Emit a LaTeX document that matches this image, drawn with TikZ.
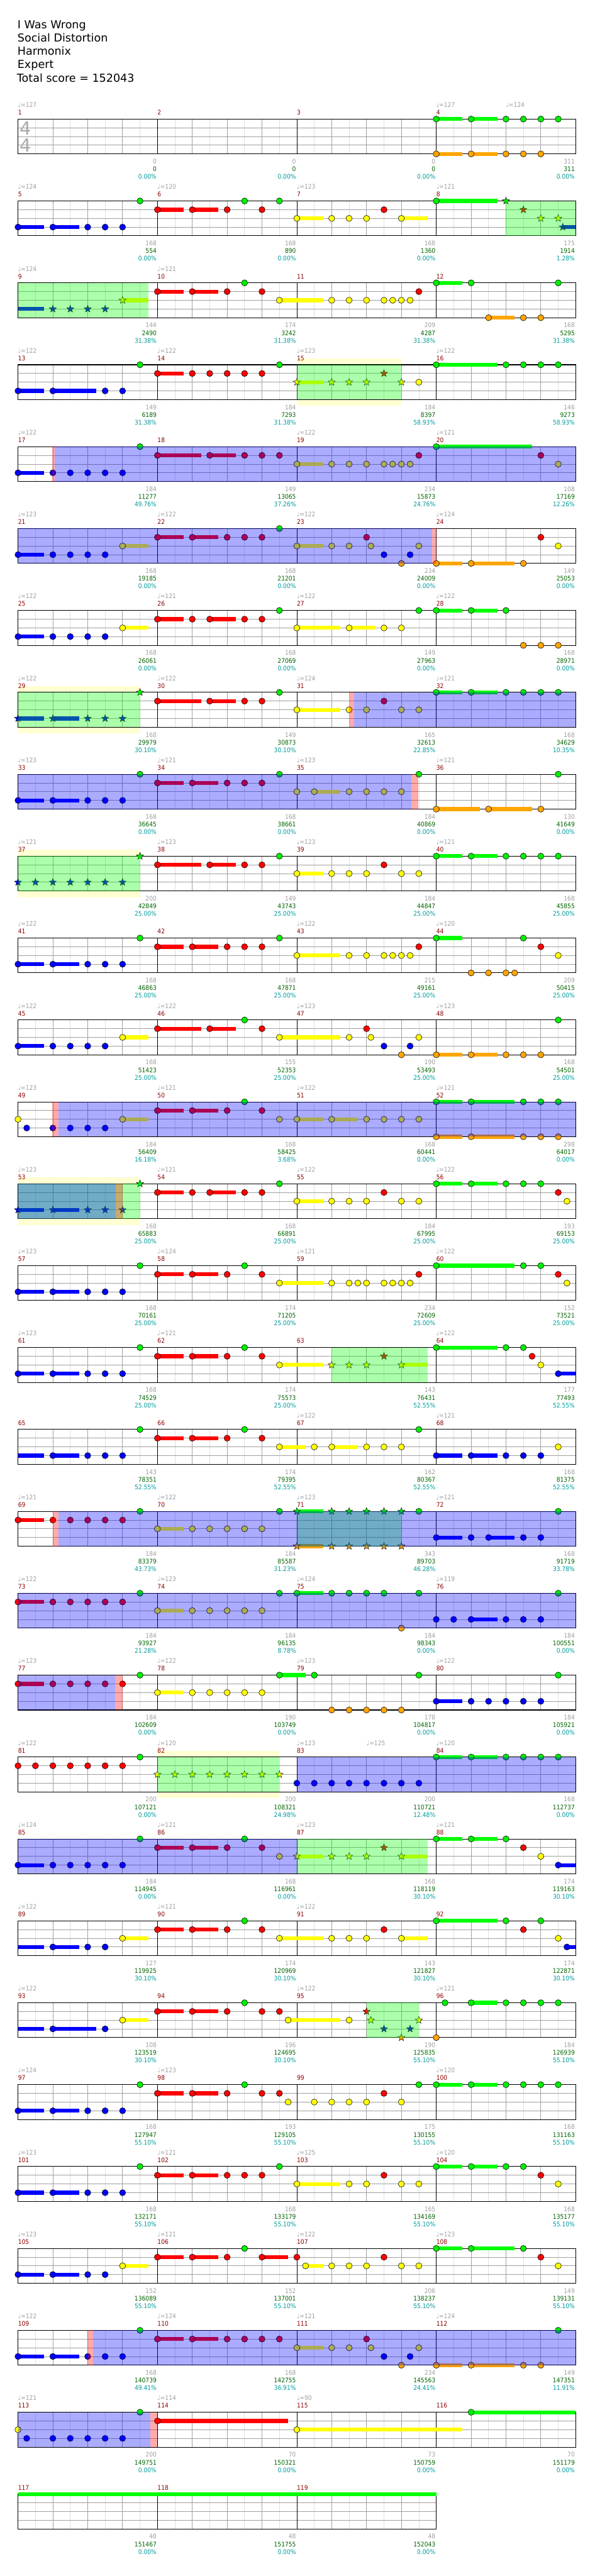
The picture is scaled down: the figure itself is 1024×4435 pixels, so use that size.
\documentclass[tikz,border=0pt]{standalone}
\usepackage{fontspec}
\usetikzlibrary{shapes.geometric}
\newfontfamily\ttlf{DejaVu Sans}
\newfontfamily\lblf[FakeStretch=0.9]{DejaVu Sans}
\definecolor{ln0}{HTML}{00EE00}\definecolor{ln1}{HTML}{FF0000}\definecolor{ln2}{HTML}{FFFF00}
\definecolor{ln3}{HTML}{0000FF}\definecolor{ln4}{HTML}{FFA500}
\definecolor{sl0}{HTML}{00FF00}\definecolor{sl1}{HTML}{FF0000}\definecolor{sl2}{HTML}{FFFF00}
\definecolor{sl3}{HTML}{0000FF}\definecolor{sl4}{HTML}{FFA500}
\definecolor{mred}{HTML}{8B0000}\definecolor{tgrey}{HTML}{A0A0A0}
\definecolor{ngreen}{HTML}{006400}\definecolor{ncyan}{HTML}{009C9C}
\definecolor{ybandc}{HTML}{FFFFD2}\definecolor{lgridc}{HTML}{DEDEDE}\definecolor{dgridc}{HTML}{A0A0A0}
\definecolor{tsig}{HTML}{AAAAAA}
\tikzset{
  nt/.style={draw=black,line width=0.6pt},
  stn/.style={star,star points=5,star point ratio=2.4,minimum size=13pt,inner sep=0pt,draw=black,line width=0.5pt},
  lgrid/.style={draw=lgridc,line width=0.8pt},
  dgrid/.style={draw=dgridc,line width=0.9pt},
  mline/.style={draw=black,line width=0.9pt},
  bline/.style={draw=black,line width=1.1pt},
  gov/.style={fill={rgb,255:red,0;green,255;blue,0},fill opacity=0.33},
  bov/.style={fill={rgb,255:red,0;green,0;blue,255},fill opacity=0.33},
  rov/.style={fill={rgb,255:red,255;green,0;blue,0},fill opacity=0.33},
  lbl/.style={inner sep=0pt,font=\lblf\fontsize{11}{11}\selectfont},
  mnum/.style={lbl,anchor=base west,text=mred},
  tmp/.style={lbl,anchor=base west,text=tgrey},
  lgr/.style={lbl,anchor=base east,text=tgrey},
  lgn/.style={lbl,anchor=base east,text=ngreen},
  lcy/.style={lbl,anchor=base east,text=ncyan},
  ttl/.style={inner sep=0pt,anchor=base west,font=\ttlf\fontsize{19}{19}\selectfont},
}
\newcommand\xN[2]{\draw[nt,fill=ln#1] (#2*60,#1*15) circle (5.3pt);}
\newcommand\xNs[2]{\foreach \bb in {#2}{\xN{#1}{\bb}}}
\newcommand\xS[3]{\fill[sl#1] (#2*60,#1*15-3.35) rectangle ({(#2+#3)*60},#1*15+3.35);\xN{#1}{#2}}
\newcommand\xC[3]{\fill[sl#1] (#2*60,#1*15-3.35) rectangle (#3*60,#1*15+3.35);}
\newcommand\xST[2]{\node[stn,fill=ln#1] at (#2*60,#1*15) {};}
\newcommand\xSTs[2]{\foreach \bb in {#2}{\xST{#1}{\bb}}}
\newcommand\xSS[3]{\fill[sl#1] (#2*60,#1*15-3.35) rectangle ({(#2+#3)*60},#1*15+3.35);\xST{#1}{#2}}
\newcommand\xOG[2]{\fill[gov] (#1*60,0) rectangle (#2*60,60);}
\newcommand\xOB[2]{\fill[bov] (#1*60,0) rectangle (#2*60,60);}
\newcommand\xOR[2]{\fill[rov] (#1*60,0) rectangle (#2*60,60);}
\newcommand\xY[2]{\fill[ybandc] (#1*60,-10.7) rectangle (#2*60,70.7);}
\newcommand\xT[2]{\node[tmp] at (#1*60,-20.3) {♩=#2};}
\newcommand\xM[5]{\node[mnum] at (#1*240,-7.3) {#2};
  \node[lgr] at (#1*240+238.7,77) {#3};
  \node[lgn] at (#1*240+238.7,90.3) {#4};
  \node[lcy] at (#1*240+238.7,103.3) {#5\%};}
\newcommand\xStaff[1]{%
  \fill[white] (0,0) rectangle (#1*240,60);
  \pgfmathtruncatemacro\nbx{#1*4-1}%
  \foreach \ii in {0,...,\nbx}{\draw[lgrid] (\ii*60+30,0) -- (\ii*60+30,60);}
  \foreach \ii in {1,...,\nbx}{\draw[dgrid] (\ii*60,0) -- (\ii*60,60);}
  \foreach \jj in {15,30,45}{\draw[dgrid] (0,\jj) -- (#1*240,\jj);}
  \pgfmathtruncatemacro\nmx{#1-1}%
  \foreach \ii in {1,...,\nmx}{\draw[mline] (\ii*240,0) -- (\ii*240,60);}
  \draw[bline] (0,0) rectangle (#1*240,60);}
\begin{document}
\begin{tikzpicture}[x=1pt,y=-1pt]
\useasboundingbox (0,0) rectangle (1024,4435);
\fill[white] (0,0) rectangle (1024,4435);
\node[ttl] (t1) at (30,49) {I Was Wrong};
\node[ttl] (t2) at (30,72) {Social Distortion};
\node[ttl] (t3) at (30,95) {Harmonix};
\node[ttl] (t4) at (30,118) {Expert};
\node[ttl] (t5) at (29,141) {Total score = 152043};
% row 0
\begin{scope}[shift={(31,205)}]
\xStaff{4}
\node[text=tsig,inner sep=0pt,font=\ttlf\fontsize{31}{31}\selectfont] at (13,16) {4};
\node[text=tsig,inner sep=0pt,font=\ttlf\fontsize{31}{31}\selectfont] at (13,45) {4};
\xT{0}{127}\xT{12}{127}\xT{14}{124}
\xS{0}{12}{0.75}\xS{0}{13}{0.75}\xNs{0}{14,14.5,15,15.5}
\xS{4}{12}{0.75}\xS{4}{13}{0.75}\xNs{4}{14,14.5,15}
\xM{0}{1}{0}{0}{0.00}\xM{1}{2}{0}{0}{0.00}\xM{2}{3}{0}{0}{0.00}\xM{3}{4}{311}{311}{0.00}
\end{scope}
% row 1
\begin{scope}[shift={(31,346)}]
\xStaff{4}
\xT{0}{124}\xT{4}{120}\xT{8}{123}\xT{12}{121}
\xS{3}{0}{0.75}\xS{3}{1}{0.75}\xNs{3}{2,2.5,3}
\xNs{0}{3.5,6.5,7.5}
\xS{1}{4}{0.75}\xS{1}{5}{0.75}\xNs{1}{6,7,10.5}
\xS{2}{8}{0.75}\xNs{2}{9,9.5,10}\xS{2}{11}{0.75}
\xS{0}{12}{1.75}
\xST{0}{14}\xST{1}{14.5}\xSTs{2}{15,15.5}\xSS{3}{15.63}{0.37}
\xOG{14}{16}
\xM{0}{5}{168}{554}{0.00}\xM{1}{6}{168}{890}{0.00}\xM{2}{7}{168}{1360}{0.00}\xM{3}{8}{175}{1914}{1.28}
\end{scope}
% row 2
\begin{scope}[shift={(31,487)}]
\xStaff{4}
\xT{0}{124}\xT{4}{121}
\xC{3}{0}{0.75}\xSTs{3}{1,1.5,2,2.5}\xSS{2}{3}{0.75}
\xS{1}{4}{0.75}\xS{1}{5}{0.75}\xNs{1}{6,7,11.5}\xNs{0}{6.5}
\xS{2}{7.5}{1.25}\xNs{2}{9,9.5,10,10.5,10.75,11,11.25}
\xS{0}{12}{0.75}\xNs{0}{13,15.5}
\xS{4}{13.5}{0.75}\xNs{4}{14.5,15}
\xOG{0}{3.75}
\xM{0}{9}{144}{2490}{31.38}\xM{1}{10}{174}{3242}{31.38}\xM{2}{11}{209}{4287}{31.38}\xM{3}{12}{168}{5295}{31.38}
\end{scope}
% row 3
\begin{scope}[shift={(31,628)}]
\xY{8}{11}
\xStaff{4}
\xT{0}{122}\xT{4}{122}\xT{8}{123}\xT{12}{122}
\xS{3}{0}{0.75}\xS{3}{1}{1.25}\xNs{3}{2.5,3}\xNs{0}{3.5,7.5}
\xS{1}{4}{0.75}\xNs{1}{5,5.5,6,6.5,7}
\xSS{2}{8}{0.75}\xSTs{2}{9,9.5,10,11}\xST{1}{10.5}\xNs{2}{11.5}
\xS{0}{12}{1.75}\xNs{0}{14,14.5,15,15.5}
\xOG{8}{11}
\xM{0}{13}{149}{6189}{31.38}\xM{1}{14}{184}{7293}{31.38}\xM{2}{15}{184}{8397}{58.93}\xM{3}{16}{146}{9273}{58.93}
\end{scope}
% row 4
\begin{scope}[shift={(31,769)}]
\xStaff{4}
\xT{0}{122}\xT{8}{122}\xT{12}{121}
\xS{3}{0}{0.75}\xNs{3}{1,1.5,2,2.5,3}\xNs{0}{3.5}
\xS{1}{4}{1.25}\xS{1}{5.5}{0.75}\xNs{1}{6.5,7,7.5,11.5,15}
\xS{2}{8}{0.75}\xNs{2}{9,9.5,10,10.5,10.75,11,11.25,15.5}
\xS{0}{12}{2.75}
\xOR{0.98}{1.06}\xOB{1.06}{16}
\xM{0}{17}{184}{11277}{49.76}\xM{1}{18}{149}{13065}{37.26}\xM{2}{19}{234}{15873}{24.76}\xM{3}{20}{108}{17169}{12.26}
\end{scope}
% row 5
\begin{scope}[shift={(31,910)}]
\xStaff{4}
\xT{0}{123}\xT{4}{122}\xT{8}{122}\xT{12}{124}
\xS{3}{0}{0.75}\xNs{3}{1,1.5,2,2.5,10.5,11.25}
\xS{2}{3}{0.75}
\xS{1}{4}{0.75}\xS{1}{5}{0.75}\xNs{1}{6,6.5,7,10,15}\xNs{0}{7.5}
\xS{2}{8}{0.75}\xNs{2}{9,9.5,10.125,11.5,15.5}
\xNs{4}{11}
\xS{4}{12}{0.75}\xS{4}{13}{1.25}\xNs{4}{14.5}
\xOB{0}{11.88}\xOR{11.88}{12}
\xM{0}{21}{168}{19185}{0.00}\xM{1}{22}{168}{21201}{0.00}\xM{2}{23}{234}{24009}{0.00}\xM{3}{24}{149}{25053}{0.00}
\end{scope}
% row 6
\begin{scope}[shift={(31,1051)}]
\xStaff{4}
\xT{0}{122}\xT{4}{121}\xT{8}{122}\xT{12}{122}
\xS{3}{0}{0.75}\xNs{3}{1,1.5,2,2.5}\xS{2}{3}{0.75}
\xS{1}{4}{0.75}\xNs{1}{5,6.5,7}\xS{1}{5.5}{0.75}\xNs{0}{7.5,11.5}
\xS{2}{8}{1.25}\xS{2}{9.5}{0.75}\xNs{2}{10.5,11}
\xS{0}{12}{0.75}\xS{0}{13}{0.75}\xNs{0}{14}
\xNs{4}{14.5,15,15.5}
\xM{0}{25}{168}{26061}{0.00}\xM{1}{26}{168}{27069}{0.00}\xM{2}{27}{149}{27963}{0.00}\xM{3}{28}{168}{28971}{0.00}
\end{scope}
% row 7
\begin{scope}[shift={(31,1192)}]
\xY{0}{3.5}
\xStaff{4}
\xT{0}{122}\xT{4}{122}\xT{8}{124}\xT{12}{121}
\xSS{3}{0}{0.75}\xSS{3}{1}{0.75}\xSTs{3}{2,2.5,3}\xST{0}{3.5}
\xS{1}{4}{1.25}\xS{1}{5.5}{0.75}\xNs{1}{6.5,7,10.5}\xNs{0}{7.5}
\xS{2}{8}{1.25}\xNs{2}{9.5,10,11,11.5}
\xS{0}{12}{0.75}\xS{0}{13}{0.75}\xNs{0}{14,14.5,15,15.5}
\xOG{0}{3.5}\xOR{9.49}{9.65}\xOB{9.65}{16}
\xM{0}{29}{168}{29979}{30.10}\xM{1}{30}{149}{30873}{30.10}\xM{2}{31}{165}{32613}{22.85}\xM{3}{32}{168}{34629}{10.35}
\end{scope}
% row 8
\begin{scope}[shift={(31,1333)}]
\xStaff{4}
\xT{0}{123}\xT{4}{121}\xT{8}{123}\xT{12}{121}
\xS{3}{0}{0.75}\xS{3}{1}{0.75}\xNs{3}{2,2.5,3}\xNs{0}{3.5,7.5,11.5,15.5}
\xS{1}{4}{0.75}\xS{1}{5}{0.75}\xNs{1}{6,6.5,7}
\xNs{2}{8,9.5,10,10.5,11}\xS{2}{8.5}{0.75}
\xS{4}{12}{1.25}\xS{4}{13.5}{1.25}\xNs{4}{15}
\xOB{0}{11.28}\xOR{11.28}{11.49}
\xM{0}{33}{168}{36645}{0.00}\xM{1}{34}{168}{38661}{0.00}\xM{2}{35}{184}{40869}{0.00}\xM{3}{36}{130}{41649}{0.00}
\end{scope}
% row 9
\begin{scope}[shift={(31,1474)}]
\xY{0}{3.5}
\xStaff{4}
\xT{0}{121}\xT{4}{123}\xT{8}{123}\xT{12}{121}
\xSTs{3}{0,0.5,1,1.5,2,2.5,3}\xST{0}{3.5}
\xS{1}{4}{1.25}\xS{1}{5.5}{0.75}\xNs{1}{6.5,7,10.5}\xNs{0}{7.5}
\xS{2}{8}{0.75}\xNs{2}{9,9.5,10,11,11.5}
\xS{0}{12}{0.75}\xS{0}{13}{0.75}\xNs{0}{14,14.5,15,15.5}
\xOG{0}{3.5}
\xM{0}{37}{200}{42849}{25.00}\xM{1}{38}{149}{43743}{25.00}\xM{2}{39}{184}{44847}{25.00}\xM{3}{40}{168}{45855}{25.00}
\end{scope}
% row 10
\begin{scope}[shift={(31,1615)}]
\xStaff{4}
\xT{0}{122}\xT{8}{122}\xT{12}{120}
\xS{3}{0}{0.75}\xS{3}{1}{0.75}\xNs{3}{2,2.5,3}\xNs{0}{3.5,7.5,14.5}
\xS{1}{4}{0.75}\xS{1}{5}{0.75}\xNs{1}{6,6.5,7,11.5,15}
\xS{2}{8}{1.25}\xNs{2}{9.5,10,10.5,10.75,11,11.25,15.5}
\xS{0}{12}{0.75}\xNs{4}{13,13.5,14,14.25}
\xM{0}{41}{168}{46863}{25.00}\xM{1}{42}{168}{47871}{25.00}\xM{2}{43}{215}{49161}{25.00}\xM{3}{44}{209}{50415}{25.00}
\end{scope}
% row 11
\begin{scope}[shift={(31,1756)}]
\xStaff{4}
\xT{0}{122}\xT{4}{122}\xT{8}{123}\xT{12}{123}
\xS{3}{0}{0.75}\xNs{3}{1,1.5,2,2.5,10.5,11.25}\xS{2}{3}{0.75}
\xS{1}{4}{1.25}\xS{1}{5.5}{0.75}\xNs{1}{7,10}\xNs{0}{6.5,15.5}
\xS{2}{7.5}{1.75}\xNs{2}{9.5,10.125,11.5}
\xNs{4}{11}\xS{4}{12}{0.75}\xS{4}{13}{0.75}\xNs{4}{14,14.5,15}
\xM{0}{45}{168}{51423}{25.00}\xM{1}{46}{155}{52353}{25.00}\xM{2}{47}{190}{53493}{25.00}\xM{3}{48}{168}{54501}{25.00}
\end{scope}
% row 12
\begin{scope}[shift={(31,1897)}]
\xStaff{4}
\xT{0}{123}\xT{4}{121}\xT{8}{122}\xT{12}{121}
\xNs{2}{0}\xNs{3}{0.25,1,1.5,2,2.5}\xS{2}{3}{0.75}\xNs{0}{6.5}
\xS{1}{4}{0.75}\xS{1}{5}{0.75}\xNs{1}{6,7}
\xNs{2}{7.5}\xS{2}{8}{0.75}\xS{2}{9}{0.75}\xNs{2}{10,10.5,11,11.5}
\xS{0}{12}{0.75}\xS{0}{13}{1.25}\xNs{0}{14.5,15,15.5}
\xS{4}{12}{0.75}\xS{4}{13}{1.25}\xNs{4}{14.5,15,15.5}
\xOR{0.99}{1.16}\xOB{1.16}{16}
\xM{0}{49}{184}{56409}{16.18}\xM{1}{50}{168}{58425}{3.68}\xM{2}{51}{168}{60441}{0.00}\xM{3}{52}{298}{64017}{0.00}
\end{scope}
% row 13
\begin{scope}[shift={(31,2038)}]
\xY{0}{3.5}
\xStaff{4}
\xT{0}{123}\xT{4}{121}\xT{8}{122}\xT{12}{122}
\xSS{3}{0}{0.75}\xSS{3}{1}{0.75}\xSTs{3}{2,2.5,3}\xST{0}{3.5}
\xS{1}{4}{0.75}\xNs{1}{5,6.5,7,10.5,15.5}\xS{1}{5.5}{0.75}\xNs{0}{7.5}
\xS{2}{8}{0.75}\xNs{2}{9,9.5,10,11,11.5,15.75}
\xS{0}{12}{0.75}\xS{0}{13}{0.75}\xNs{0}{14,14.5,15}
\xOG{0}{3.5}\xOB{0}{2.8}\xOR{2.8}{3.0}
\xM{0}{53}{168}{65883}{25.00}\xM{1}{54}{168}{66891}{25.00}\xM{2}{55}{184}{67995}{25.00}\xM{3}{56}{193}{69153}{25.00}
\end{scope}
% row 14
\begin{scope}[shift={(31,2179)}]
\xStaff{4}
\xT{0}{123}\xT{4}{124}\xT{8}{121}\xT{12}{122}
\xS{3}{0}{0.75}\xS{3}{1}{0.75}\xNs{3}{2,2.5,3}\xNs{0}{3.5,6.5}
\xS{1}{4}{0.75}\xS{1}{5}{0.75}\xNs{1}{6,7,11.5,15.5}
\xS{2}{7.5}{1.25}\xNs{2}{9,9.5,9.75,10,10.5,10.75,11,11.25,15.75}
\xS{0}{12}{2.25}\xNs{0}{14.5,15}
\xM{0}{57}{168}{70161}{25.00}\xM{1}{58}{174}{71205}{25.00}\xM{2}{59}{234}{72609}{25.00}\xM{3}{60}{152}{73521}{25.00}
\end{scope}
% row 15
\begin{scope}[shift={(31,2320)}]
\xStaff{4}
\xT{0}{123}\xT{4}{121}\xT{12}{122}
\xS{3}{0}{0.75}\xS{3}{1}{0.75}\xNs{3}{2,2.5,3}\xNs{0}{3.5,6.5}
\xS{1}{4}{0.75}\xS{1}{5}{0.75}\xNs{1}{6,7,14.75}
\xS{2}{7.5}{1.25}\xSTs{2}{9,9.5,10}\xST{1}{10.5}\xSS{2}{11}{0.75}
\xS{0}{12}{1.75}\xNs{0}{14,14.5}\xNs{2}{15}\xS{3}{15.5}{0.5}
\xOG{9}{11.75}
\xM{0}{61}{168}{74529}{25.00}\xM{1}{62}{174}{75573}{25.00}\xM{2}{63}{143}{76431}{52.55}\xM{3}{64}{177}{77493}{52.55}
\end{scope}
% row 16
\begin{scope}[shift={(31,2461)}]
\xStaff{4}
\xT{8}{122}\xT{12}{121}
\xC{3}{0}{0.75}\xS{3}{1}{0.75}\xNs{3}{2,2.5,3}\xNs{0}{3.5,6.5,11.5}
\xS{1}{4}{0.75}\xS{1}{5}{0.75}\xNs{1}{6,7}
\xS{2}{7.5}{0.75}\xNs{2}{8.5,10,10.5,11,15.5}\xS{2}{9}{0.75}
\xS{3}{12}{0.75}\xS{3}{13}{0.75}\xNs{3}{14,14.5,15}
\xM{0}{65}{143}{78351}{52.55}\xM{1}{66}{174}{79395}{52.55}\xM{2}{67}{162}{80367}{52.55}\xM{3}{68}{168}{81375}{52.55}
\end{scope}
% row 17
\begin{scope}[shift={(31,2602)}]
\xStaff{4}
\xT{0}{121}\xT{4}{122}\xT{8}{123}\xT{12}{121}
\xS{1}{0}{0.75}\xNs{1}{1,1.5,2,2.5,3}\xNs{0}{3.5,7.5,11.5,15.5}
\xS{2}{4}{0.75}\xNs{2}{5,5.5,6,6.5,7}
\xSS{0}{8}{0.75}\xSTs{0}{9,9.5,10,10.5,11}
\xSS{4}{8}{0.75}\xSTs{4}{9,9.5,10,10.5,11}
\xS{3}{12}{0.75}\xNs{3}{13,14.5,15}\xS{3}{13.5}{0.75}
\xOG{8}{11}\xOR{1.0}{1.16}\xOB{1.16}{16}
\xM{0}{69}{184}{83379}{43.73}\xM{1}{70}{184}{85587}{31.23}\xM{2}{71}{343}{89703}{46.28}\xM{3}{72}{168}{91719}{33.78}
\end{scope}
% row 18
\begin{scope}[shift={(31,2743)}]
\xStaff{4}
\xT{0}{122}\xT{4}{123}\xT{8}{124}\xT{12}{119}
\xS{1}{0}{0.75}\xNs{1}{1,1.5,2,2.5,3}\xNs{0}{3.5,7.5}
\xS{2}{4}{0.75}\xNs{2}{5,5.5,6,6.5,7}
\xS{0}{8}{0.75}\xNs{0}{9,9.5,10,10.5,11.5,15.5}\xNs{4}{11}
\xNs{3}{12,12.5,14,14.5,15}\xS{3}{13}{0.75}
\xOB{0}{16}
\xM{0}{73}{184}{93927}{21.28}\xM{1}{74}{184}{96135}{8.78}\xM{2}{75}{184}{98343}{0.00}\xM{3}{76}{184}{100551}{0.00}
\end{scope}
% row 19
\begin{scope}[shift={(31,2884)}]
\xStaff{4}
\xT{0}{123}\xT{4}{122}\xT{8}{123}\xT{12}{122}
\xS{1}{0}{0.75}\xNs{1}{1,1.5,2,2.5,3}\xNs{0}{3.5}
\xS{2}{4}{0.75}\xNs{2}{5,5.5,6,6.5,7}
\xS{0}{7.5}{0.75}\xNs{0}{8.5,11.5,15.5}\xNs{4}{9,9.5,10,10.5,11}
\xS{3}{12}{0.75}\xNs{3}{13,13.5,14,14.5,15}
\xOB{0}{2.79}\xOR{2.79}{3}
\xM{0}{77}{184}{102609}{0.00}\xM{1}{78}{190}{103749}{0.00}\xM{2}{79}{178}{104817}{0.00}\xM{3}{80}{184}{105921}{0.00}
\end{scope}
% row 20
\begin{scope}[shift={(31,3025)}]
\xY{4}{7.5}
\xStaff{4}
\xT{0}{122}\xT{4}{120}\xT{8}{123}\xT{10}{125}\xT{12}{120}
\xNs{1}{0,0.5,1,1.5,2,2.5,3}\xNs{0}{3.5}
\xSTs{2}{4,4.5,5,5.5,6,6.5,7,7.5}
\xNs{3}{8,8.5,9,9.5,10,10.5,11,11.5}
\xS{0}{12}{0.75}\xS{0}{13}{0.75}\xNs{0}{14,14.5,15,15.5}
\xOG{4}{7.5}\xOB{8}{16}
\xM{0}{81}{200}{107121}{0.00}\xM{1}{82}{200}{108321}{24.98}\xM{2}{83}{200}{110721}{12.48}\xM{3}{84}{168}{112737}{0.00}
\end{scope}
% row 21
\begin{scope}[shift={(31,3166)}]
\xStaff{4}
\xT{0}{124}\xT{4}{121}\xT{8}{123}\xT{12}{121}
\xS{3}{0}{0.75}\xNs{3}{1,1.5,2,2.5,3}\xNs{0}{3.5,6.5}
\xS{1}{4}{0.75}\xS{1}{5}{0.75}\xNs{1}{6,7,14.5}\xNs{2}{7.5,15}
\xSS{2}{8}{0.75}\xSTs{2}{9,9.5,10}\xST{1}{10.5}\xSS{2}{11}{0.75}
\xS{0}{12}{0.75}\xS{0}{13}{0.75}\xNs{0}{14}\xS{3}{15.5}{0.5}
\xOB{0}{8}\xOG{8}{11.75}
\xM{0}{85}{184}{114945}{0.00}\xM{1}{86}{168}{116961}{0.00}\xM{2}{87}{168}{118119}{30.10}\xM{3}{88}{174}{119163}{30.10}
\end{scope}
% row 22
\begin{scope}[shift={(31,3307)}]
\xStaff{4}
\xT{0}{122}\xT{4}{121}\xT{8}{122}
\xC{3}{0}{0.75}\xS{3}{1}{0.75}\xNs{3}{2,2.5}\xS{2}{3}{0.75}
\xS{1}{4}{0.75}\xS{1}{5}{0.75}\xNs{1}{6,7,10.5,14.5}\xNs{0}{6.5}
\xS{2}{7.5}{1.25}\xNs{2}{9,9.5,10,15.5}\xS{2}{11}{0.75}
\xS{0}{12}{1.75}\xNs{0}{14,15}\xS{3}{15.75}{0.25}
\xM{0}{89}{127}{119925}{30.10}\xM{1}{90}{174}{120969}{30.10}\xM{2}{91}{143}{121827}{30.10}\xM{3}{92}{174}{122871}{30.10}
\end{scope}
% row 23
\begin{scope}[shift={(31,3448)}]
\xStaff{4}
\xT{0}{122}\xT{8}{122}\xT{12}{121}
\xC{3}{0}{0.75}\xS{3}{1}{1.25}\xNs{3}{2.5}\xS{2}{3}{0.75}
\xS{1}{4}{0.75}\xS{1}{5}{0.75}\xNs{1}{6,7,7.5}\xNs{0}{6.5}
\xS{2}{7.75}{1.5}\xNs{2}{9.5}
\xST{1}{10}\xSTs{2}{10.125,11.5}\xSTs{3}{10.5,11.25}\xST{4}{11}
\xNs{4}{12}\xNs{0}{12.25}\xS{0}{13}{0.75}\xNs{0}{14,14.5,15,15.5}
\xOG{10}{11.5}
\xM{0}{93}{108}{123519}{30.10}\xM{1}{94}{196}{124695}{30.10}\xM{2}{95}{190}{125835}{55.10}\xM{3}{96}{184}{126939}{55.10}
\end{scope}
% row 24
\begin{scope}[shift={(31,3589)}]
\xStaff{4}
\xT{0}{124}\xT{4}{123}\xT{12}{120}
\xS{3}{0}{0.75}\xS{3}{1}{0.75}\xNs{3}{2,2.5,3}\xNs{0}{3.5,6.5,11.5}
\xS{1}{4}{0.75}\xS{1}{5}{0.75}\xNs{1}{6,7,7.5,10.5}
\xNs{2}{7.75,8.5,9,9.5,10,11}
\xS{0}{12}{0.75}\xS{0}{13}{0.75}\xNs{0}{14,14.5,15,15.5}
\xM{0}{97}{168}{127947}{55.10}\xM{1}{98}{193}{129105}{55.10}\xM{2}{99}{175}{130155}{55.10}\xM{3}{100}{168}{131163}{55.10}
\end{scope}
% row 25
\begin{scope}[shift={(31,3730)}]
\xStaff{4}
\xT{0}{123}\xT{4}{121}\xT{8}{125}\xT{12}{120}
\xS{3}{0}{0.75}\xS{3}{1}{0.75}\xNs{3}{2,2.5,3}\xNs{0}{3.5,7.5}
\xS{1}{4}{0.75}\xS{1}{5}{0.75}\xNs{1}{6,6.5,7,10.5,15}
\xS{2}{8}{1.25}\xNs{2}{9.5,10,11,11.5,15.5}
\xS{0}{12}{0.75}\xS{0}{13}{0.75}\xNs{0}{14,14.5}
\xM{0}{101}{168}{132171}{55.10}\xM{1}{102}{168}{133179}{55.10}\xM{2}{103}{165}{134169}{55.10}\xM{3}{104}{168}{135177}{55.10}
\end{scope}
% row 26
\begin{scope}[shift={(31,3871)}]
\xStaff{4}
\xT{0}{123}\xT{4}{121}\xT{8}{122}\xT{12}{123}
\xS{3}{0}{0.75}\xS{3}{1}{0.75}\xNs{3}{2,2.5}\xS{2}{3}{0.75}
\xS{1}{4}{0.75}\xS{1}{5}{0.75}\xNs{1}{6,8,10.5,15}\xS{1}{7}{0.75}\xNs{0}{6.5}
\xS{2}{8.25}{0.5}\xNs{2}{9,9.5,10,11,11.5,15.5}
\xS{0}{12}{0.75}\xS{0}{13}{1.25}\xNs{0}{14.5}
\xM{0}{105}{152}{136089}{55.10}\xM{1}{106}{152}{137001}{55.10}\xM{2}{107}{206}{138237}{55.10}\xM{3}{108}{149}{139131}{55.10}
\end{scope}
% row 27
\begin{scope}[shift={(31,4012)}]
\xStaff{4}
\xT{0}{122}\xT{4}{124}\xT{8}{121}\xT{12}{124}
\xS{3}{0}{0.75}\xS{3}{1}{0.75}\xNs{3}{2,2.5,3,10.5,11.25}\xNs{0}{3.5,15.5}
\xS{1}{4}{0.75}\xS{1}{5}{0.75}\xNs{1}{6,6.5,7,7.5,10}
\xS{2}{8}{0.75}\xNs{2}{9,9.5,10.125,11.5}
\xNs{4}{11}\xS{4}{12}{0.75}\xS{4}{13}{1.25}\xNs{4}{14.5,15}
\xOR{1.99}{2.16}\xOB{2.16}{16}
\xM{0}{109}{168}{140739}{49.41}\xM{1}{110}{168}{142755}{36.91}\xM{2}{111}{234}{145563}{24.41}\xM{3}{112}{149}{147351}{11.91}
\end{scope}
% row 28
\begin{scope}[shift={(31,4153)}]
\xStaff{4}
\xT{0}{121}\xT{4}{114}\xT{8}{90}
\xNs{2}{0}\xNs{3}{0.25,1,1.5,2,2.5,3}\xNs{0}{3.5}
\xS{1}{4}{3.75}\xS{2}{8}{4.75}\xS{0}{13}{3}
\xOB{0}{3.79}\xOR{3.79}{4}
\xM{0}{113}{200}{149751}{0.00}\xM{1}{114}{70}{150321}{0.00}\xM{2}{115}{73}{150759}{0.00}\xM{3}{116}{70}{151179}{0.00}
\end{scope}
% row 29
\begin{scope}[shift={(31,4294)}]
\xStaff{3}
\xC{0}{0}{12}
\xM{0}{117}{48}{151467}{0.00}\xM{1}{118}{48}{151755}{0.00}\xM{2}{119}{48}{152043}{0.00}
\end{scope}
\end{tikzpicture}
\end{document}
